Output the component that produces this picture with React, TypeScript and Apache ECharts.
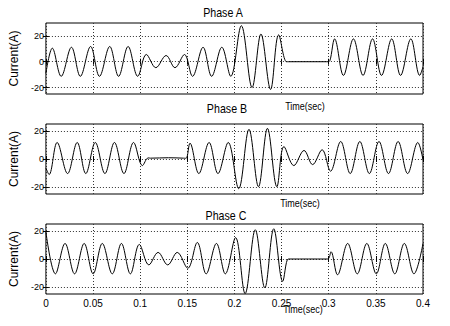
import React, { useEffect, useRef } from "react";
import * as echarts from "echarts";

// ---------- data ----------
const timeTicks = [0, 0.05, 0.1, 0.15, 0.2, 0.25, 0.3, 0.35, 0.4];
const currentTicks = [-20, 0, 20];
const phaseTitles = ["Phase A", "Phase B", "Phase C"];
const timeLabel = "Time(sec)";
const currentLabel = "Current(A)";
const rangeA = [-25, 30];
const rangeB = [-25, 25];
const rangeC = [-25, 25];

// [time (s), current (A)] read at each crest / trough / plateau of the traces
const phaseA: [number, number][] = [
  [0, -9], [0.0068, 10.5], [0.0162, -11.3], [0.0271, 11.2], [0.0365, -11.3],
  [0.0474, 11.8], [0.0568, -11.3], [0.0677, 11.8], [0.0771, -11.3], [0.0872, 11.8],
  [0.0974, -11.3], [0.1065, 5.6], [0.1166, -4.6], [0.1275, 4.8], [0.1369, -4.6],
  [0.147, 5.6], [0.1555, -11.3], [0.1667, 11.2], [0.1758, -11.3], [0.1866, 11.2],
  [0.1961, -11.3], [0.2073, 27.9], [0.2187, -20], [0.2281, 21.5], [0.2383, -21.5],
  [0.2469, 20.8], [0.2552, 0], [0.2575, 0], [0.298, 0], [0.3002, 0],
  [0.3062, 17.7], [0.3156, -10.6], [0.3262, 17.7], [0.3364, -10.6], [0.3465, 17.7],
  [0.356, -10.6], [0.3668, 17.7], [0.3762, -10.6], [0.3871, 17.7], [0.3965, -10.6],
  [0.4, -4],
];

const phaseB: [number, number][] = [
  [0, -6.4], [0.0034, -11.1], [0.0119, 11.8], [0.023, -10.4], [0.0332, 11.8],
  [0.0423, -10.4], [0.0524, 11.8], [0.0626, -10.4], [0.0727, 11.8], [0.0828, -10.4],
  [0.093, 11.8], [0.1024, -4.7], [0.1085, 0.8], [0.111, 0.6], [0.13, 0.9],
  [0.146, 0.6], [0.1487, 0.5], [0.1528, 11.3], [0.1622, -10.4], [0.1731, 11.8],
  [0.1825, -10.4], [0.1934, 11.8], [0.2045, -21.2], [0.2154, 21.2], [0.2255, -19.8],
  [0.235, 21.9], [0.245, -19.8], [0.2525, 8.9], [0.263, -4.7], [0.2738, 6.1],
  [0.2829, -4], [0.293, 6.6], [0.3019, -8.7], [0.3127, 12.5], [0.3228, -10.4],
  [0.333, 12.5], [0.3431, -10.4], [0.3533, 12.5], [0.3634, -10.4], [0.3736, 12.5],
  [0.3837, -10.4], [0.3945, 11.8], [0.4, -0.5],
];

const phaseC: [number, number][] = [
  [0, 19.3], [0.0101, -10.6], [0.0203, 11.1], [0.0304, -10.6], [0.0406, 11.1],
  [0.0501, -10.6], [0.0598, 11.1], [0.0704, -10.6], [0.0801, 11.1], [0.0896, -10.6],
  [0.0991, 10.4], [0.1092, -4.2], [0.119, 4.7], [0.1292, -4.2], [0.1393, 4.7],
  [0.1505, -6.6], [0.1606, 11.8], [0.17, -10.6], [0.1809, 11.1], [0.1903, -10.6],
  [0.2012, 15.3], [0.2113, -24.7], [0.2221, 20.9], [0.2322, -20.7], [0.2417, 21.6],
  [0.2512, -16], [0.2569, 0], [0.259, 0], [0.2985, 0], [0.3002, 0.5],
  [0.3025, 5.2], [0.3093, -11.3], [0.3201, 11.1], [0.3303, -10.6], [0.3404, 11.1],
  [0.3505, -10.6], [0.36, 11.1], [0.3701, -10.6], [0.3802, 11.1], [0.3904, -10.6],
  [0.4, 11],
];

// ---------- layout ----------
const PANELS = [
  { top: 23, height: 71, titleX: 223, titleY: 12.5, timeX: 305, timeY: 106 },
  { top: 124, height: 70, titleX: 227, titleY: 109, timeX: 300, timeY: 203 },
  { top: 224, height: 70, titleX: 226, titleY: 216, timeX: 303, timeY: 309 },
];
const LEFT = 28;
const WIDTH = 395;

export default function App() {
  const ref = useRef<HTMLDivElement>(null);

  useEffect(() => {
    if (!ref.current) return;
    const chart = echarts.init(ref.current, null, { renderer: "svg" });
    const ranges = [rangeA, rangeB, rangeC];
    const waves = [phaseA, phaseB, phaseC];
    const sans = '"Liberation Sans", Arial, sans-serif';
    const gridLine = { show: true, lineStyle: { color: "#333", width: 1, type: [1, 2] } };
    const tick = { show: true, inside: true, length: 3, lineStyle: { color: "#000", width: 1 } };
    const tMin = timeTicks[0];
    const tMax = timeTicks[timeTicks.length - 1];
    const tStep = timeTicks[1] - timeTicks[0];

    const option: any = {
      animation: false,
      backgroundColor: "#fff",
      grid: PANELS.map((p) => ({
        left: LEFT,
        width: WIDTH,
        top: p.top,
        height: p.height,
        show: true,
        borderColor: "#000",
        borderWidth: 1,
        backgroundColor: "transparent",
      })),
      xAxis: [
        ...PANELS.map((_, i) => ({
          type: "value",
          gridIndex: i,
          position: "bottom",
          min: tMin,
          max: tMax,
          interval: tStep,
          axisLine: { show: false },
          axisTick: tick,
          splitLine: gridLine,
          axisLabel:
            i === 2
              ? { show: true, color: "#000", fontFamily: sans, fontSize: 10, margin: 4 }
              : { show: false },
        })),
        ...PANELS.map((_, i) => ({
          type: "value",
          gridIndex: i,
          position: "top",
          min: tMin,
          max: tMax,
          interval: tStep,
          axisLine: { show: false },
          axisTick: tick,
          splitLine: { show: false },
          axisLabel: { show: false },
        })),
      ],
      yAxis: [
        ...PANELS.map((_, i) => ({
          type: "value",
          gridIndex: i,
          position: "left",
          min: ranges[i][0],
          max: ranges[i][1],
          axisLine: { show: false },
          axisTick: { ...tick, customValues: currentTicks },
          axisLabel: {
            show: true,
            customValues: currentTicks,
            color: "#000",
            fontFamily: sans,
            fontSize: 9,
            margin: 2,
          },
          splitLine: gridLine,
          name: currentLabel,
          nameLocation: "middle",
          nameRotate: 90,
          nameGap: 6,
          nameTextStyle: { color: "#000", fontFamily: sans, fontSize: 12 },
        })),
        ...PANELS.map((_, i) => ({
          type: "value",
          gridIndex: i,
          position: "right",
          min: ranges[i][0],
          max: ranges[i][1],
          axisLine: { show: false },
          axisTick: { ...tick, customValues: currentTicks },
          axisLabel: { show: false, customValues: currentTicks },
          splitLine: { show: false },
        })),
      ],
      series: waves.map((w, i) => ({
        type: "line",
        xAxisIndex: i,
        yAxisIndex: i,
        data: w,
        smooth: 0.36,
        showSymbol: false,
        symbol: "none",
        silent: true,
        lineStyle: { color: "#000", width: 1 },
      })),
      graphic: [
        ...PANELS.map((p, i) => ({
          type: "text",
          x: p.titleX,
          y: p.titleY,
          scaleX: 0.82,
          style: {
            text: phaseTitles[i],
            fill: "#000",
            font: `13px ${sans}`,
            align: "center",
            verticalAlign: "middle",
          },
        })),
        ...PANELS.map((p) => ({
          type: "text",
          x: p.timeX,
          y: p.timeY,
          scaleX: 0.82,
          style: {
            text: timeLabel,
            fill: "#000",
            font: `11px ${sans}`,
            align: "center",
            verticalAlign: "middle",
          },
        })),
      ],
    };

    chart.setOption(option);
    return () => chart.dispose();
  }, []);

  return (
    <div
      ref={ref}
      style={{ position: "fixed", left: 0, top: 0, width: 450, height: 326, background: "#fff" }}
    />
  );
}
